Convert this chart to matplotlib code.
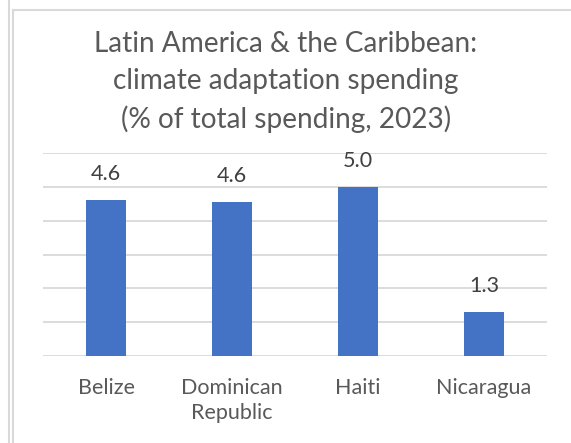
import numpy as np
import matplotlib.pyplot as plt
from matplotlib.lines import Line2D

plt.rcParams['font.family'] = ['Lato', 'DejaVu Sans']

# dados
paises = ["Belize", "Dominican\nRepublic", "Haiti", "Nicaragua"]
gastos = [4.6, 4.55, 5.0, 1.3]
rotulos = ["4.6", "4.6", "5.0", "1.3"]

W, H = 571, 443
fig = plt.figure(figsize=(W / 100, H / 100), dpi=100)

# bordas da área do gráfico (cinza claro)
cinza_borda = "#D9D9D9"
fig.add_artist(Line2D([9 / W, 9 / W], [0, 1], color=cinza_borda, lw=1.5))
fig.add_artist(Line2D([13 / W, 13 / W], [0, 1 - 10 / H], color=cinza_borda, lw=1.5))
fig.add_artist(Line2D([13 / W, 1], [1 - 10 / H, 1 - 10 / H], color=cinza_borda, lw=1.5))

ax = fig.add_axes([43 / W, (H - 356) / H, 504 / W, 203 / H])

x = np.arange(len(paises))
barras = ax.bar(x, gastos, width=0.31, color="#4472C4", zorder=3)

for b, txt in zip(barras, rotulos):
    ax.annotate(txt, (b.get_x() + b.get_width() / 2, b.get_height()),
                xytext=(0, 11.5), textcoords="offset points",
                ha="center", va="bottom", fontsize=15.5, color="#404040")

ax.set_xlim(-0.5, 3.5)
ax.set_ylim(0, 6)
ax.set_yticks(np.arange(0, 7, 1))
ax.yaxis.grid(True, color="#D9D9D9", lw=1.3, zorder=0)
ax.tick_params(axis="y", left=False, labelleft=False)
ax.tick_params(axis="x", bottom=False, pad=12)
ax.set_xticks(x)
ax.set_xticklabels(paises, fontsize=15.5, color="#595959", linespacing=1.35)
for s in ax.spines.values():
    s.set_visible(False)

fig.text(286 / W, 1 - 82 / H,
         "Latin America & the Caribbean:\nclimate adaptation spending\n(% of total spending, 2023)",
         ha="center", va="center", fontsize=20.2, color="#595959", linespacing=1.5)

plt.savefig("out.png", dpi=100)
